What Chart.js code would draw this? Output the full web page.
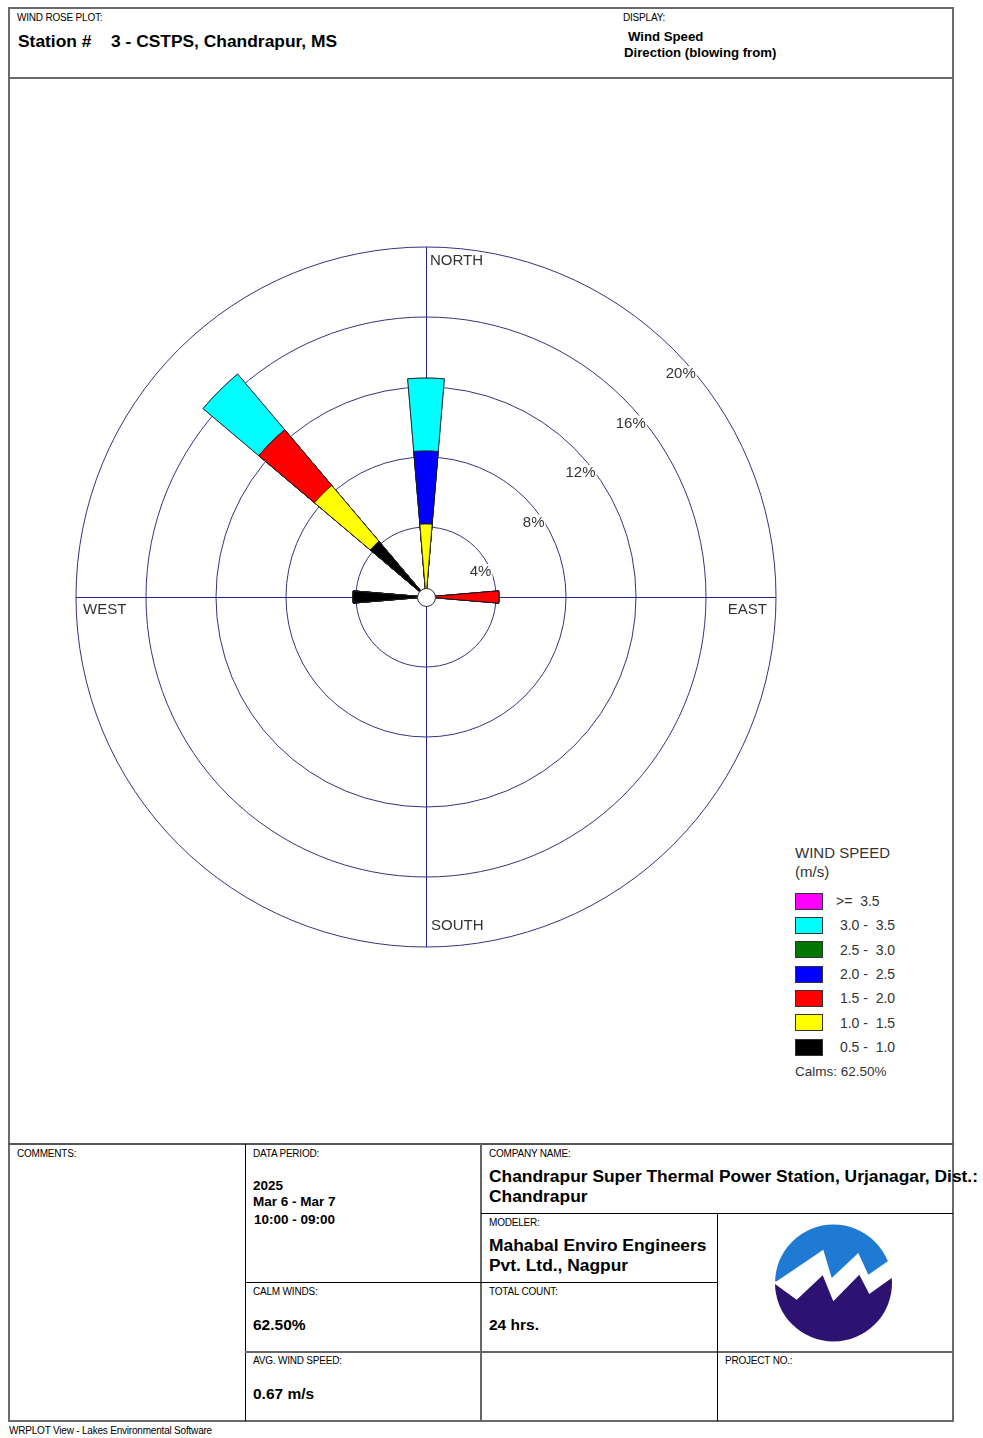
<!DOCTYPE html>
<html><head><meta charset="utf-8">
<script src="https://cdn.jsdelivr.net/npm/chart.js@4.4.1/dist/chart.umd.min.js"></script>
<style>
html,body{margin:0;padding:0;background:#fff;}
body{width:983px;height:1438px;position:relative;overflow:hidden;font-family:"Liberation Sans",Arial,sans-serif;color:#000;}
.t{position:absolute;white-space:pre;line-height:1;}
.s{font-size:10px;letter-spacing:-0.2px;}
.b{font-weight:bold;}
.ln{position:absolute;}
.g{color:#333;}
#legend .box{position:absolute;left:795px;width:28px;height:17px;box-sizing:border-box;border:1px solid #333;}
</style></head><body>

<!-- frame -->
<div class="ln" style="left:8px;top:7px;width:946px;height:1415px;box-sizing:border-box;border:2px solid #6a6a6a;"></div>
<div class="ln" style="left:8px;top:77px;width:946px;height:2px;background:#6a6a6a;"></div>
<div class="ln" style="left:8px;top:1143px;width:946px;height:2px;background:#555;"></div>
<div class="ln" style="left:245px;top:1144px;width:1px;height:277px;background:#000;"></div>
<div class="ln" style="left:480px;top:1144px;width:2px;height:277px;background:#666;"></div>
<div class="ln" style="left:481px;top:1213px;width:472px;height:1px;background:#000;"></div>
<div class="ln" style="left:245px;top:1282px;width:473px;height:1px;background:#000;"></div>
<div class="ln" style="left:245px;top:1351px;width:708px;height:2px;background:#666;"></div>
<div class="ln" style="left:717px;top:1213px;width:1px;height:208px;background:#000;"></div>

<!-- header -->
<div class="t s" style="left:17px;top:13.3px;">WIND ROSE PLOT:</div>
<div class="t b" style="left:18px;top:32.5px;font-size:17.4px;">Station #</div>
<div class="t b" style="left:111px;top:32.5px;font-size:17.4px;">3 - CSTPS, Chandrapur, MS</div>
<div class="t s" style="left:623px;top:13.3px;">DISPLAY:</div>
<div class="t b" style="left:628px;top:29.5px;font-size:13.2px;">Wind Speed</div>
<div class="t b" style="left:624px;top:45.5px;font-size:13.2px;">Direction (blowing from)</div>

<!-- chart -->
<canvas id="c" width="720" height="720" style="position:absolute;left:66px;top:237px;width:720px;height:720px;"></canvas>

<!-- legend -->
<div id="legend"></div>

<!-- bottom table -->
<div class="t s" style="left:17px;top:1149.3px;">COMMENTS:</div>
<div class="t s" style="left:253px;top:1149.3px;">DATA PERIOD:</div>
<div class="t b" style="left:253px;top:1179.4px;font-size:13.5px;">2025</div>
<div class="t b" style="left:253px;top:1195.4px;font-size:13.5px;">Mar 6 - Mar 7</div>
<div class="t b" style="left:254px;top:1213.4px;font-size:13.5px;">10:00 - 09:00</div>
<div class="t s" style="left:489px;top:1149.3px;">COMPANY NAME:</div>
<div class="t b" style="left:489px;top:1167.5px;font-size:17.4px;">Chandrapur Super Thermal Power Station, Urjanagar, Dist.:</div>
<div class="t b" style="left:489px;top:1187.5px;font-size:17.4px;">Chandrapur</div>
<div class="t s" style="left:489px;top:1218.3px;">MODELER:</div>
<div class="t b" style="left:489px;top:1236.5px;font-size:17.4px;">Mahabal Enviro Engineers</div>
<div class="t b" style="left:489px;top:1256.5px;font-size:17.4px;">Pvt. Ltd., Nagpur</div>
<div class="t s" style="left:253px;top:1287.3px;">CALM WINDS:</div>
<div class="t b" style="left:253px;top:1317.4px;font-size:15.5px;" id="calmCell"></div>
<div class="t s" style="left:489px;top:1287.3px;">TOTAL COUNT:</div>
<div class="t b" style="left:489px;top:1317.4px;font-size:15.5px;">24 hrs.</div>
<div class="t s" style="left:253px;top:1356.3px;">AVG. WIND SPEED:</div>
<div class="t b" style="left:253px;top:1386.4px;font-size:15.5px;">0.67 m/s</div>
<div class="t s" style="left:725px;top:1356.3px;">PROJECT NO.:</div>
<div class="t s" style="left:9px;top:1426.3px;">WRPLOT View - Lakes Environmental Software</div>

<!-- logo -->
<svg style="position:absolute;left:770px;top:1220px;" width="130" height="130" viewBox="0 0 130 130">
  <defs><clipPath id="cc"><circle cx="63.5" cy="63" r="58.5"/></clipPath></defs>
  <g clip-path="url(#cc)">
    <rect x="0" y="0" width="130" height="130" fill="#fff"/>
    <polygon fill="#1f7ad3" points="0,0 130,0 130,39.7 120,39.7 98.3,54.7 88.3,33 61.7,58 53.3,29.7 6.7,61.3 0,61.3"/>
    <polygon fill="#2d1272" points="0,64 5,64 26.7,79.7 52.7,55.3 63.3,81.3 89.3,54.7 99.3,74 121.7,58 130,58 130,130 0,130"/>
  </g>
</svg>

<script>
// ---- data ----
const directions = ['N','NNE','NE','ENE','E','ESE','SE','SSE','S','SSW','SW','WSW','W','WNW','NW','NNW'];
const speedBins  = ['0.5 -  1.0','1.0 -  1.5','1.5 -  2.0','2.0 -  2.5','2.5 -  3.0','3.0 -  3.5','>=  3.5'];
const binColors  = ['#000000','#ffff00','#ff0000','#0000ff','#007800','#00ffff','#ff00ff'];
// frequency (% of hours) per direction for each wind speed class
const freq_05_10 = [0,0,0,0,0,0,0,0,0,0,0,0,4.17,0,4.17,0];
const freq_10_15 = [4.17,0,0,0,0,0,0,0,0,0,0,0,0,0,4.17,0];
const freq_15_20 = [0,0,0,0,4.17,0,0,0,0,0,0,0,0,0,4.17,0];
const freq_20_25 = [4.17,0,0,0,0,0,0,0,0,0,0,0,0,0,0,0];
const freq_25_30 = [0,0,0,0,0,0,0,0,0,0,0,0,0,0,0,0];
const freq_30_35 = [4.17,0,0,0,0,0,0,0,0,0,0,0,0,0,4.17,0];
const freq_35_up = [0,0,0,0,0,0,0,0,0,0,0,0,0,0,0,0];
const ringTicks  = [4,8,12,16,20];
const compassLabels = ['NORTH','EAST','SOUTH','WEST'];
const calmsPct = '62.50%';

const bins = [freq_05_10,freq_10_15,freq_15_20,freq_20_25,freq_25_30,freq_30_35,freq_35_up];

// legend (HTML, highest class on top)
(function(){
  const lg = document.getElementById('legend');
  let h = '<div class="t g" style="left:795px;top:844.6px;font-size:15px;">WIND SPEED</div>'+
          '<div class="t g" style="left:795px;top:863.6px;font-size:15px;">(m/s)</div>';
  const order = [6,5,4,3,2,1,0];
  order.forEach((k,i)=>{
    const c = 901 + i*24.33;
    const txt = k===6 ? speedBins[k] : ' '+speedBins[k];
    h += `<div class="box" style="top:${(c-8.5).toFixed(1)}px;background:${binColors[k]};"></div>`;
    h += `<div class="t g" style="left:836px;top:${(c-6.9).toFixed(1)}px;font-size:14px;">${txt}</div>`;
  });
  h += `<div class="t g" style="left:795px;top:${(1072-6.6).toFixed(1)}px;font-size:13.5px;">Calms: ${calmsPct}</div>`;
  lg.innerHTML = h;
  document.getElementById('calmCell').textContent = calmsPct;
})();

// ---- chart ----
const PETAL = 9.6, GAP = 22.5 - PETAL;
const labels = [];
directions.forEach(d=>{ labels.push(d); labels.push(''); });

const datasets = bins.map((b,k)=>{
  const data = [];
  directions.forEach((d,i)=>{
    let cum = 0;
    for (let j=0;j<=k;j++) cum += bins[j][i];
    data.push(cum); data.push(0);
  });
  return {
    label: speedBins[k],
    data: data,
    backgroundColor: binColors[k],
    borderColor: '#1a1a1a',
    borderWidth: (ctx)=> (ctx.raw > 0 ? 0.8 : 0),
    angle: (ctx)=> (ctx.dataIndex % 2 === 0 ? PETAL : GAP)
  };
});

function label(ctx, text, x, y, align){
  ctx.font = '15px "Liberation Sans", Arial, sans-serif';
  const w = ctx.measureText(text).width;
  const left = align === 'right' ? x - w : x;
  ctx.fillStyle = '#fff';
  ctx.fillRect(left - 1, y - 8, w + 2, 16);
  ctx.fillStyle = '#333';
  ctx.textAlign = 'left';
  ctx.textBaseline = 'middle';
  ctx.fillText(text, left, y);
}

const overlay = {
  id: 'overlay',
  beforeDatasetsDraw(chart){
    const s = chart.scales.r, ctx = chart.ctx;
    const cx = s.xCenter, cy = s.yCenter, R = s.getDistanceFromCenterForValue(s.max);
    ctx.save();
    ctx.strokeStyle = '#22228a';
    ctx.lineWidth = 1;
    ctx.beginPath();
    ctx.moveTo(cx + 0.5, cy - R); ctx.lineTo(cx + 0.5, cy + R);
    ctx.moveTo(cx - R, cy + 0.5); ctx.lineTo(cx + R, cy + 0.5);
    ctx.stroke();
    ctx.restore();
  },
  afterDatasetsDraw(chart){
    const s = chart.scales.r, ctx = chart.ctx;
    const cx = s.xCenter, cy = s.yCenter, R = s.getDistanceFromCenterForValue(s.max);
    ctx.save();
    // calm circle
    ctx.beginPath();
    ctx.arc(cx + 0.5, cy + 0.5, 9, 0, Math.PI * 2);
    ctx.fillStyle = '#fff'; ctx.fill();
    ctx.strokeStyle = '#333'; ctx.lineWidth = 1; ctx.stroke();
    // ring labels
    ringTicks.forEach(v=>{
      const r = s.getDistanceFromCenterForValue(v);
      const yo = -r * Math.SQRT1_2 + 24.5;
      const xo = Math.sqrt(r * r - yo * yo);
      label(ctx, v + '%', cx + xo, cy + yo, 'right');
    });
    // compass labels
    label(ctx, compassLabels[0], cx + 4, cy - R + 14, 'left');
    label(ctx, compassLabels[1], cx + R - 9, cy + 13, 'right');
    label(ctx, compassLabels[2], cx + 5, cy + R - 21, 'left');
    label(ctx, compassLabels[3], cx - R + 7, cy + 13, 'left');
    ctx.restore();
  }
};

new Chart(document.getElementById('c'), {
  type: 'polarArea',
  data: { labels: labels, datasets: datasets },
  options: {
    responsive: false,
    animation: false,
    layout: { padding: 10 },
    plugins: { legend: { display: false }, tooltip: { enabled: false } },
    scales: {
      r: {
        min: 0, max: 20,
        startAngle: -PETAL / 2,
        ticks: { display: false, stepSize: 4 },
        grid: { circular: true, color: '#34347e', lineWidth: 1 },
        angleLines: { display: false },
        pointLabels: { display: false }
      }
    }
  },
  plugins: [overlay]
});
</script>
</body></html>
